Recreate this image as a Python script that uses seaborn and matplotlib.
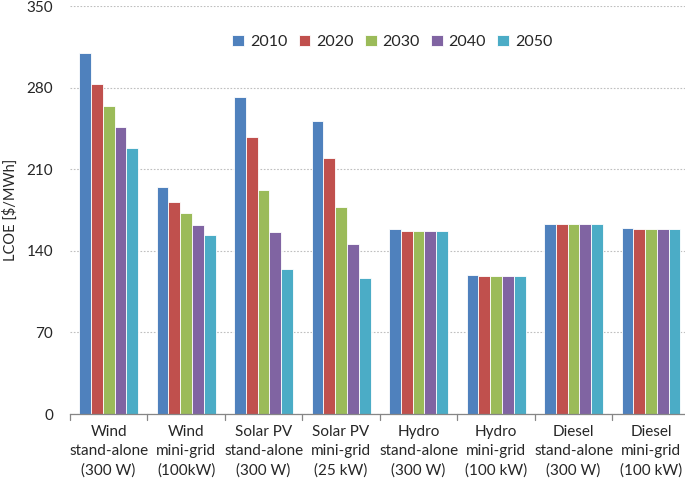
import matplotlib
matplotlib.use("Agg")
import matplotlib.pyplot as plt
import seaborn as sns
import pandas as pd

categories = ["Wind\nstand-alone\n(300 W)", "Wind\nmini-grid\n(100kW)",
              "Solar PV\nstand-alone\n(300 W)", "Solar PV\nmini-grid\n(25 kW)",
              "Hydro\nstand-alone\n(300 W)", "Hydro\nmini-grid\n(100 kW)",
              "Diesel\nstand-alone\n(300 W)", "Diesel\nmini-grid\n(100 kW)"]
years = ["2010", "2020", "2030", "2040", "2050"]
v2010 = [310, 195, 272, 251, 158.5, 119, 163.2, 159.2]
v2020 = [283, 181.5, 237.5, 219.5, 157, 118, 162.6, 158.9]
v2030 = [264, 172, 192, 178, 157, 118, 162.6, 158.9]
v2040 = [246, 162.5, 156.5, 145.5, 157, 118, 162.6, 158.9]
v2050 = [228, 153.5, 124.5, 116.5, 157, 118, 162.6, 158.9]
colors = ["#4F81BD", "#C0504D", "#9BBB59", "#8064A2", "#4BACC6"]

rows = []
for y, vals in zip(years, [v2010, v2020, v2030, v2040, v2050]):
    for c, v in zip(categories, vals):
        rows.append({"cat": c, "year": y, "val": v})
df = pd.DataFrame(rows)

sns.set_style("white")
plt.rcParams["font.family"] = ["Lato", "DejaVu Sans"]

fig = plt.figure(figsize=(6.85, 4.8), dpi=100)
ax = fig.add_axes([0.102, 0.1375, 0.905, 0.85])
sns.barplot(data=df, x="cat", y="val", hue="year", order=categories, hue_order=years,
            palette=colors, width=0.76, gap=0, ax=ax, saturation=1,
            edgecolor="white", linewidth=0.6, errorbar=None)

ax.set_ylim(0, 350)
ax.set_yticks([0, 70, 140, 210, 280, 350])
ax.set_xlim(-0.5, 7.5)
ax.yaxis.grid(True, linestyle=(0, (1.5, 1.5)), color="#BFBFBF", linewidth=0.8)
ax.set_axisbelow(True)
for s in ["top", "right", "left"]:
    ax.spines[s].set_visible(False)
ax.spines["bottom"].set_color("#868686")
ax.spines["bottom"].set_linewidth(0.9)
ax.tick_params(axis="y", length=0, labelsize=11, pad=12)
ax.tick_params(axis="x", length=0, labelsize=11, pad=8)
for lbl in ax.get_xticklabels():
    lbl.set_linespacing(1.45)
# category separator ticks
for i in range(9):
    ax.plot([i - 0.5, i - 0.5], [0, -5], color="#868686", lw=0.9, clip_on=False)
ax.set_xlabel("")
ax.set_ylabel("LCOE [$/MWh]", fontsize=10.5, labelpad=6)

leg = ax.legend(loc="upper center", bbox_to_anchor=(0.52, 0.965), ncol=5, frameon=False,
                fontsize=11.5, handlelength=0.75, handleheight=0.75, handletextpad=0.35,
                columnspacing=0.7)
for h in leg.legend_handles:
    h.set_edgecolor("white")

fig.savefig("out.png", dpi=100)
